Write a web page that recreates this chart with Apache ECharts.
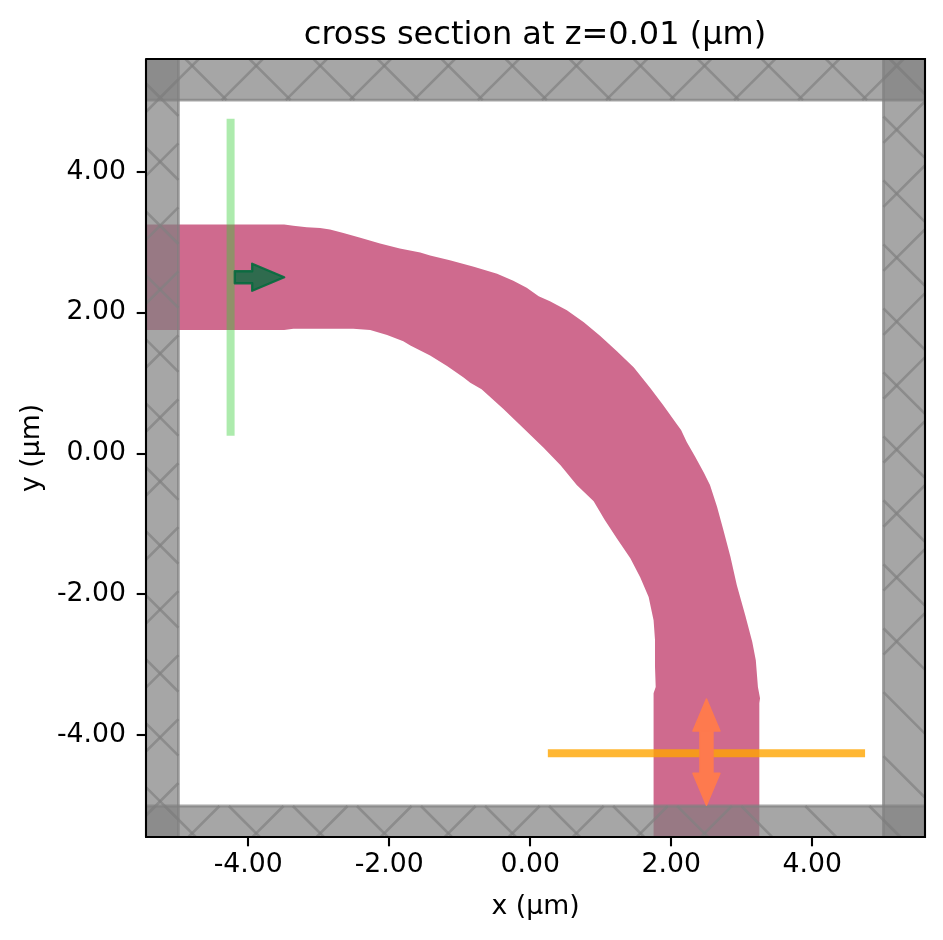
<!DOCTYPE html>
<html>
<head>
<meta charset="utf-8">
<style>html,body{margin:0;padding:0;background:#fff}#c{width:943px;height:940px}</style>
<script src="https://cdn.jsdelivr.net/npm/echarts@6/dist/echarts.min.js"></script>
</head>
<body>
<div id="c"></div>
<script>
const titleText = "cross section at z=0.01 (μm)";
const xAxisName = "x (μm)";
const yAxisName = "y (μm)";
const tickValues = [-4, -2, 0, 2, 4];
const xRange = [-5.45, 5.6];
const yRange = [-5.45, 5.6];

const upperEdge = [[-5.45,3.25],[-3.49,3.25],[-3.36,3.23],[-3.17,3.21],[-2.98,3.20],[-2.84,3.18],[-2.65,3.13],[-2.41,3.06],[-2.13,2.98],[-1.85,2.91],[-1.56,2.85],[-1.42,2.81],[-1.14,2.74],[-0.80,2.65],[-0.47,2.55],[-0.24,2.45],[-0.05,2.35],[0.12,2.23],[0.28,2.16],[0.52,2.03],[0.76,1.86],[0.99,1.67],[1.23,1.45],[1.47,1.22],[1.70,0.93],[1.89,0.68],[2.06,0.44],[2.14,0.33],[2.22,0.16],[2.34,-0.05],[2.46,-0.27],[2.55,-0.45],[2.65,-0.76],[2.74,-1.09],[2.84,-1.47],[2.93,-1.87],[3.05,-2.30],[3.15,-2.68],[3.20,-2.94],[3.23,-3.32],[3.26,-3.48],[3.25,-3.55],[3.25,-5.45]];
const lowerEdge = [[1.75,-5.45],[1.75,-3.41],[1.78,-3.32],[1.77,-3.03],[1.77,-2.65],[1.75,-2.37],[1.68,-2.04],[1.56,-1.76],[1.42,-1.49],[1.23,-1.21],[1.06,-0.95],[0.90,-0.68],[0.66,-0.45],[0.43,-0.17],[0.19,0.08],[-0.10,0.36],[-0.38,0.63],[-0.69,0.91],[-0.85,1.00],[-0.95,1.08],[-1.18,1.24],[-1.42,1.39],[-1.70,1.53],[-1.80,1.59],[-2.03,1.68],[-2.27,1.75],[-2.51,1.77],[-2.84,1.77],[-3.36,1.77],[-3.49,1.75],[-5.45,1.75]];

// absorbing regions: x0, x1, y0, y1
const pmlRegions = [[-6,-4.99,-6,6],[5.01,6,-6,6],[-6,6,-6,-5.01],[-6,6,5.015,6]];
const hatchAnchor = [-5.25, 5.05];
const hatchPeriod = 0.9085;

const sourcePlane = [[-4.25,0.25],[-4.25,4.75]];
const monitorPlane = [[0.25,-4.26],[4.75,-4.26]];
const sourceArrow = [[-4.19,2.5],[-3.49,2.5]];
const monitorArrow = [[2.5,-4.25],[2.5,-3.49],[2.5,-5.0]];

const FONT = "DejaVu Sans";
const PML = "rgba(128,128,128,0.7)";

function hatchSegments(r){
  const out=[];
  const [x0,x1,y0,y1]=r;
  [1,-1].forEach(s=>{
    const c0=hatchAnchor[1]-s*hatchAnchor[0];
    for(let k=-20;k<=20;k++){
      const c=c0+k*hatchPeriod;
      let a=x0,b=x1;
      const xa=(y0-c)/s, xb=(y1-c)/s;
      a=Math.max(a,Math.min(xa,xb)); b=Math.min(b,Math.max(xa,xb));
      if(a<b) out.push([[a,s*a+c],[b,s*b+c]]);
    }
  });
  return out;
}
function arrowHead(tip, dir){
  const hl=32, hw=13.5;
  const n=[-dir[1],dir[0]];
  return [
    [tip[0]-dir[0]*hl+n[0]*hw, tip[1]-dir[1]*hl+n[1]*hw],
    tip,
    [tip[0]-dir[0]*hl-n[0]*hw, tip[1]-dir[1]*hl-n[1]*hw]
  ];
}

const tickStyle = {color:'#000',width:2.1};
const labelStyle = v=>Number(v).toFixed(2);
const option = {
  animation:false,
  backgroundColor:'#fff',
  title:{text:titleText,left:530,top:15,textAlign:'center',
    textStyle:{fontFamily:FONT,fontSize:32,fontWeight:'normal',color:'#000'}},
  grid:{left:146,right:18,top:59,bottom:103,show:false,containLabel:false},
  xAxis:{type:'value',min:xRange[0],max:xRange[1],position:'bottom',zlevel:4,
    name:xAxisName,nameLocation:'middle',nameGap:57,
    nameTextStyle:{fontFamily:FONT,fontSize:26.7,color:'#000'},
    splitLine:{show:false},
    axisLine:{show:true,onZero:false,lineStyle:tickStyle},
    axisTick:{show:true,length:9.3,customValues:tickValues,lineStyle:tickStyle},
    axisLabel:{show:true,margin:15,fontFamily:FONT,fontSize:26.7,color:'#000',
      customValues:tickValues,formatter:labelStyle,hideOverlap:false}},
  yAxis:{type:'value',min:yRange[0],max:yRange[1],position:'left',zlevel:4,
    name:yAxisName,nameLocation:'middle',nameGap:98,
    nameTextStyle:{fontFamily:FONT,fontSize:26.7,color:'#000'},
    splitLine:{show:false},
    axisLine:{show:true,onZero:false,lineStyle:tickStyle},
    axisTick:{show:true,length:9.3,customValues:tickValues,lineStyle:tickStyle},
    axisLabel:{show:true,margin:20,fontFamily:FONT,fontSize:26.7,color:'#000',
      customValues:tickValues,formatter:labelStyle,hideOverlap:false}},
  graphic:[
    {type:'line',silent:true,zlevel:4,shape:{x1:146,y1:59,x2:925,y2:59},style:{stroke:'#000',lineWidth:2.1}},
    {type:'line',silent:true,zlevel:4,shape:{x1:925,y1:58,x2:925,y2:838},style:{stroke:'#000',lineWidth:2.1}}
  ],
  series:[
    {type:'custom',name:'waveguide',coordinateSystem:'cartesian2d',clip:true,zlevel:1,silent:true,
      data:[[0,0]],
      renderItem:(p,api)=>({type:'polygon',shape:{points:upperEdge.concat(lowerEdge).map(q=>api.coord(q))},
          style:{fill:'#cf6a8e'}})},
    {type:'custom',name:'pml',coordinateSystem:'cartesian2d',clip:true,zlevel:2,silent:true,
      data:[[0,0]],
      renderItem:(p,api)=>{
        const children=[];
        pmlRegions.forEach(r=>{
          const a=api.coord([r[0],r[3]]), b=api.coord([r[1],r[2]]);
          children.push({type:'rect',shape:{x:a[0],y:a[1],width:b[0]-a[0],height:b[1]-a[1]},style:{fill:PML}});
          hatchSegments(r).forEach(s=>{
            const u=api.coord(s[0]),v=api.coord(s[1]);
            children.push({type:'line',shape:{x1:u[0],y1:u[1],x2:v[0],y2:v[1]},style:{stroke:PML,lineWidth:2.6,fill:null}});
          });
          children.push({type:'rect',shape:{x:a[0],y:a[1],width:b[0]-a[0],height:b[1]-a[1]},
            style:{fill:'none',stroke:PML,lineWidth:2.8}});
        });
        return {type:'group',children};
      }},
    {type:'custom',name:'planes',coordinateSystem:'cartesian2d',clip:true,zlevel:3,silent:true,
      data:[[0,0]],
      renderItem:(p,api)=>{
        const children=[];
        const plane=(pl,color)=>{
          const u=api.coord(pl[0]),v=api.coord(pl[1]);
          return {type:'line',shape:{x1:u[0],y1:u[1],x2:v[0],y2:v[1]},style:{stroke:color,lineWidth:8,lineCap:'butt',fill:null}};
        };
        children.push(plane(sourcePlane,'rgba(50,205,50,0.4)'));
        children.push(plane(monitorPlane,'rgba(255,165,0,0.8)'));
        const s0=api.coord(sourceArrow[0]), s1=api.coord(sourceArrow[1]);
        const sh=arrowHead(s1,[1,0]);
        const sw=6;
        const srcPts=[[s0[0],s0[1]-sw],[sh[2][0],s0[1]-sw],sh[2],s1,sh[0],[sh[0][0],s0[1]+sw],[s0[0],s0[1]+sw]];
        const c=api.coord(monitorArrow[0]), t=api.coord(monitorArrow[1]), b=api.coord(monitorArrow[2]);
        const h1=arrowHead(t,[0,-1]), h2=arrowHead(b,[0,1]);
        const mw=6.5;
        const monPts=[[c[0]-mw,h1[0][1]],h1[0],t,h1[2],[c[0]+mw,h1[0][1]],
          [c[0]+mw,h2[2][1]],h2[0],b,h2[2],[c[0]-mw,h2[2][1]]];
        children.push({type:'polygon',shape:{points:srcPts},style:{fill:'rgba(6,107,62,0.8)',stroke:'rgba(6,107,62,0.9)',lineWidth:2.4,lineJoin:'round'}});
        children.push({type:'polygon',shape:{points:monPts},style:{fill:'#fe7a4e',stroke:'#fe7a4e',lineWidth:1.5,lineJoin:'round'}});
        return {type:'group',children};
      }}
  ]
};
const chart = echarts.init(document.getElementById('c'),null,{renderer:'canvas'});
chart.setOption(option);
</script>
</body>
</html>
